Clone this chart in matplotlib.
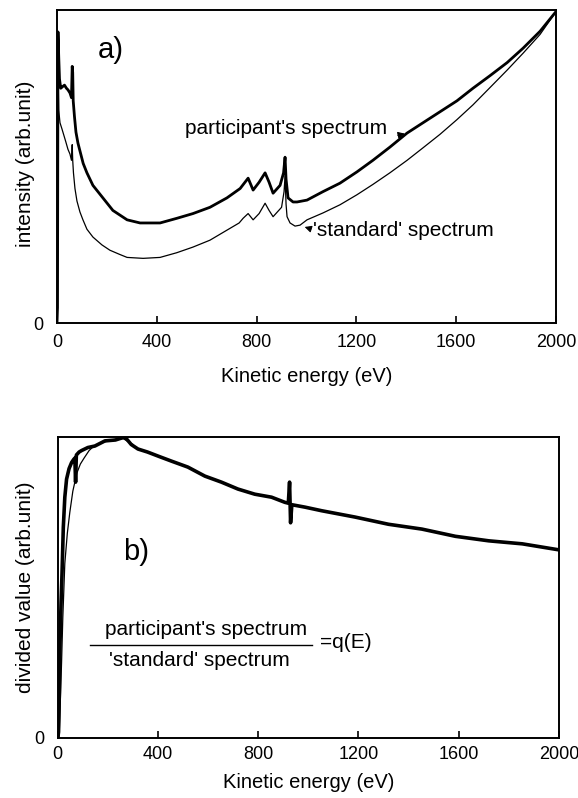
import matplotlib
matplotlib.use("Agg")
import matplotlib.pyplot as plt

plt.rcParams['font.family'] = ['Liberation Sans', 'DejaVu Sans']

# panel a) : measured spectra (arbitrary units, 0 .. 1 of axis height)
energy_part = [0, 2, 4, 7, 10, 15, 22, 30, 38, 44, 52, 58, 61, 63, 65, 70, 76, 84,
               92, 105, 120, 144, 184, 224, 281, 333, 413, 481, 545, 613, 681, 734,
               766, 786, 810, 834, 850, 866, 894, 908, 914, 918, 926, 946, 962, 1002,
               1066, 1134, 1202, 1266, 1334, 1403, 1467, 1535, 1603, 1667, 1735,
               1804, 1868, 1936, 2000]
intensity_part = [0.0, 0.05, 0.93, 0.85, 0.78, 0.75, 0.755, 0.76, 0.75, 0.745, 0.735,
                  0.72, 0.82, 0.80, 0.71, 0.66, 0.61, 0.575, 0.55, 0.51, 0.48, 0.44,
                  0.40, 0.36, 0.33, 0.32, 0.32, 0.335, 0.35, 0.37, 0.40, 0.43, 0.463,
                  0.425, 0.45, 0.48, 0.45, 0.415, 0.44, 0.48, 0.53, 0.46, 0.40, 0.387,
                  0.387, 0.393, 0.42, 0.447, 0.483, 0.52, 0.562, 0.607, 0.64, 0.675,
                  0.71, 0.75, 0.79, 0.832, 0.878, 0.932, 0.995]

energy_std = [0, 2, 4, 7, 12, 20, 35, 44, 52, 58, 61, 63, 66, 72, 80, 92, 104, 120,
              144, 180, 212, 250, 281, 345, 413, 480, 545, 613, 681, 730, 746, 766,
              786, 810, 834, 850, 866, 900, 910, 914, 918, 922, 934, 954, 974, 1002,
              1066, 1134, 1202, 1266, 1334, 1403, 1467, 1535, 1603, 1667, 1735, 1804,
              1868, 1936, 2000]
intensity_std = [0.0, 0.05, 0.80, 0.68, 0.64, 0.62, 0.58, 0.555, 0.54, 0.52, 0.57,
                 0.52, 0.48, 0.43, 0.39, 0.355, 0.33, 0.30, 0.275, 0.25, 0.233, 0.22,
                 0.21, 0.207, 0.21, 0.225, 0.243, 0.265, 0.297, 0.32, 0.335, 0.35,
                 0.33, 0.35, 0.383, 0.36, 0.34, 0.37, 0.42, 0.47, 0.38, 0.34, 0.32,
                 0.31, 0.313, 0.33, 0.352, 0.378, 0.41, 0.443, 0.48, 0.52, 0.56,
                 0.603, 0.65, 0.697, 0.752, 0.808, 0.862, 0.922, 0.995]

# panel b) : ratio participant / standard
energy_ratio = [0, 3, 6, 9, 13, 17, 22, 28, 35, 45, 55, 63, 68, 71, 74, 85, 95, 120,
                148, 188, 230, 268, 293, 320, 358, 405, 453, 519, 587, 653, 719, 786,
                853, 906, 920, 925, 929, 934, 986, 1053, 1186, 1320, 1453, 1587, 1720,
                1854, 2000]
q_ratio = [0.0, 0.02, 0.15, 0.32, 0.45, 0.55, 0.70, 0.80, 0.86, 0.895, 0.915, 0.925,
           0.93, 0.85, 0.94, 0.95, 0.955, 0.965, 0.97, 0.987, 0.99, 1.0, 0.975, 0.96,
           0.95, 0.935, 0.92, 0.90, 0.87, 0.85, 0.827, 0.81, 0.80, 0.783, 0.78, 0.85,
           0.715, 0.775, 0.767, 0.755, 0.734, 0.71, 0.694, 0.67, 0.655, 0.645, 0.625]

energy_ratio2 = [5, 10, 15, 20, 28, 38, 48, 60, 76, 90, 105, 125, 144, 175, 210, 260, 300]
q_ratio2 = [0.0, 0.12, 0.25, 0.40, 0.58, 0.68, 0.75, 0.82, 0.88, 0.91, 0.93, 0.955,
            0.97, 0.98, 0.99, 0.995, 0.975]

xticks = [0, 400, 800, 1200, 1600, 2000]


def style_axes(ax, tpad, lpad):
    ax.set_xlim(0, 2000)
    ax.set_ylim(0, 1.0)
    ax.set_xticks(xticks)
    ax.set_yticks([0])
    ax.tick_params(axis='x', direction='in', length=5, width=1.2, pad=tpad, labelsize=13)
    ax.tick_params(axis='y', length=0, pad=10, labelsize=13)
    for s in ax.spines.values():
        s.set_linewidth(1.4)
    ax.set_xlabel("Kinetic energy (eV)", fontsize=14.5, labelpad=lpad)


fig = plt.figure(figsize=(5.78, 7.98), dpi=100)
ax1 = fig.add_axes([0.0986, 0.595, 0.8634, 0.3925])
ax2 = fig.add_axes([0.100, 0.0752, 0.867, 0.3772])

# a)
ax1.plot(energy_part, intensity_part, color='black', lw=2.0)
ax1.plot(energy_std, intensity_std, color='black', lw=0.9)
style_axes(ax1, 8, 11)
ax1.set_ylabel("intensity (arb.unit)", fontsize=15)
ax1.yaxis.set_label_coords(-0.045, 0.51)
ax1.text(216, 0.872, "a)", fontsize=21, ha='center', va='center')
ax1.text(513, 0.623, "participant's spectrum", fontsize=15, ha='left', va='center')
ax1.annotate("", xy=(1405, 0.607), xytext=(1355, 0.598),
             arrowprops=dict(arrowstyle='-|>', color='black', lw=0.8,
                             mutation_scale=10))
ax1.text(1025, 0.297, "'standard' spectrum", fontsize=15, ha='left', va='center')
ax1.annotate("", xy=(982, 0.31), xytext=(1028, 0.298),
             arrowprops=dict(arrowstyle='-|>', color='black', lw=0.8,
                             mutation_scale=10))

# b)
ax2.plot(energy_ratio, q_ratio, color='black', lw=2.6)
ax2.plot(energy_ratio2, q_ratio2, color='black', lw=0.9)
style_axes(ax2, 6, 7)
ax2.set_ylabel("divided value (arb.unit)", fontsize=15)
ax2.yaxis.set_label_coords(-0.045, 0.50)
ax2.text(311, 0.618, "b)", fontsize=21, ha='center', va='center')
ax2.text(591, 0.359, "participant's spectrum", fontsize=15, ha='center', va='center')
ax2.plot([128, 1014], [0.309, 0.309], color='black', lw=1.0)
ax2.text(567, 0.259, "'standard' spectrum", fontsize=15, ha='center', va='center')
ax2.text(1046, 0.316, "=q(E)", fontsize=15, ha='left', va='center')

fig.savefig("out.png", dpi=100)
